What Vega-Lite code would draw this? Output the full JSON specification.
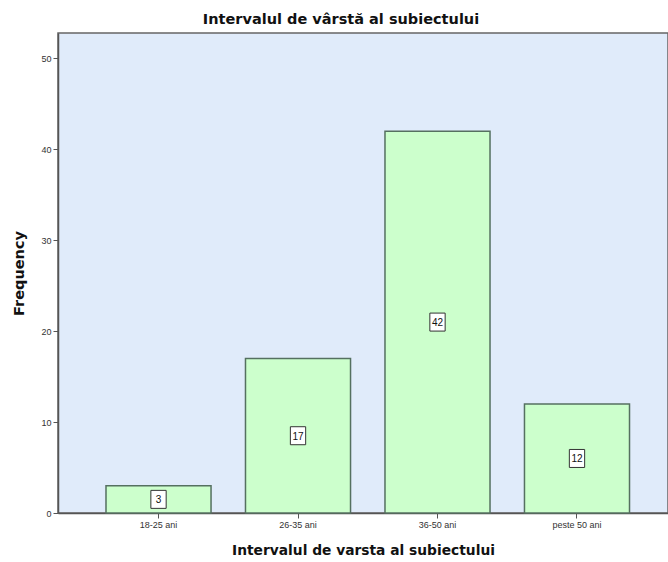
{
  "$schema": "https://vega.github.io/schema/vega-lite/v6.json",
  "autosize": "none",
  "width": 610,
  "height": 480,
  "padding": {"left": 58, "top": 33, "right": 0, "bottom": 49},
  "background": "white",
  "config": {
    "font": "Liberation Sans",
    "view": {"fill": "#e0ebfa", "stroke": "#666666", "strokeWidth": 1.5}
  },
  "title": {
    "text": "Intervalul de vârstă al subiectului",
    "font": "DejaVu Sans",
    "fontSize": 14.5,
    "fontWeight": "bold",
    "color": "#111111",
    "anchor": "middle",
    "dx": -22,
    "offset": 6
  },
  "data": {
    "values": [
      {"Interval": "18-25 ani", "Frequency": 3},
      {"Interval": "26-35 ani", "Frequency": 17},
      {"Interval": "36-50 ani", "Frequency": 42},
      {"Interval": "peste 50 ani", "Frequency": 12}
    ]
  },
  "encoding": {
    "x": {
      "field": "Interval",
      "type": "nominal",
      "sort": null,
      "scale": {"paddingInner": 0.247, "paddingOuter": 0.31, "align": 0.555},
      "axis": {
        "title": "Intervalul de varsta al subiectului",
        "titleFont": "DejaVu Sans",
        "titleFontSize": 13.8,
        "titleFontWeight": "bold",
        "titleColor": "#111111",
        "titlePadding": 14,
        "labelAngle": 0,
        "labelFontSize": 9,
        "labelColor": "#333333",
        "labelPadding": 2,
        "tickSize": 5,
        "tickColor": "#555555",
        "domainColor": "#555555",
        "domainWidth": 1.5
      }
    }
  },
  "layer": [
    {
      "mark": {"type": "bar", "fill": "#ccffcc", "stroke": "#557060", "strokeWidth": 1.5},
      "encoding": {
        "y": {
          "field": "Frequency",
          "type": "quantitative",
          "scale": {"domain": [0, 52.8], "nice": false},
          "axis": {
            "values": [0, 10, 20, 30, 40, 50],
            "grid": false,
            "title": "Frequency",
            "titleFont": "DejaVu Sans",
            "titleFontSize": 14.5,
            "titleFontWeight": "bold",
            "titleColor": "#111111",
            "titlePadding": 14,
            "labelFontSize": 9,
            "labelColor": "#333333",
            "labelPadding": 2,
            "tickSize": 5,
            "tickColor": "#555555",
            "domainColor": "#555555",
            "domainWidth": 1.5
          }
        }
      }
    },
    {
      "transform": [{"calculate": "datum.Frequency / 2", "as": "mid"}],
      "mark": {"type": "point", "shape": "M-0.85,-1H0.85V1H-0.85Z", "size": 324, "filled": true, "fill": "white", "stroke": "#333333", "strokeWidth": 1, "opacity": 1},
      "encoding": {
        "y": {"field": "mid", "type": "quantitative", "scale": {"domain": [0, 52.8], "nice": false}}
      }
    },
    {
      "transform": [{"calculate": "datum.Frequency / 2", "as": "mid"}],
      "mark": {"type": "text", "fontSize": 10, "color": "#111111", "baseline": "middle", "dy": 1},
      "encoding": {
        "y": {"field": "mid", "type": "quantitative", "scale": {"domain": [0, 52.8], "nice": false}},
        "text": {"field": "Frequency", "type": "quantitative"}
      }
    }
  ]
}
